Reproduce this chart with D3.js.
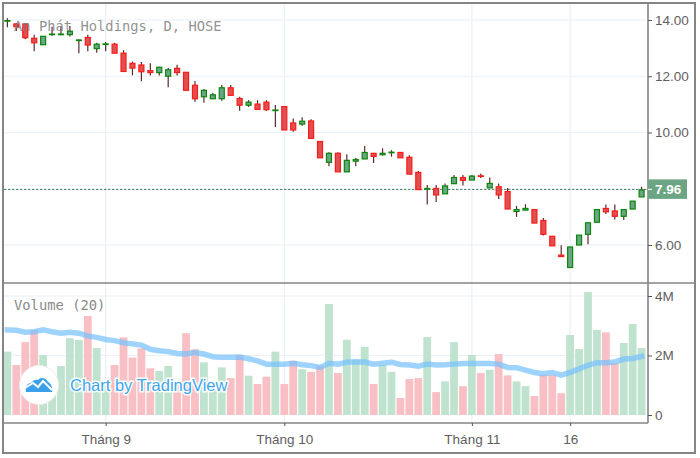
<!DOCTYPE html>
<html>
<head>
<meta charset="utf-8">
<script src="https://cdn.jsdelivr.net/npm/d3@7"></script>
<style>
  html, body { margin: 0; padding: 0; background: #fff; }
  svg { display: block; }
  text { font-family: "Liberation Sans", Arial, sans-serif; }
</style>
</head>
<body>
<div id="chart"></div>
<script>
// daily candles
const opens = [13.96,13.86,13.86,13.35,13.12,13.49,13.49,13.48,13.28,13.38,12.98,13.14,13.14,12.82,12.46,12.40,12.20,12.13,12.00,12.28,12.14,11.68,11.27,11.20,11.20,11.59,11.21,10.97,11.01,11.08,10.79,10.92,10.34,10.30,10.41,9.68,8.94,9.26,8.60,8.98,9.06,9.26,9.21,9.29,9.29,9.12,8.58,8.00,8.01,7.82,8.18,8.40,8.31,8.46,8.03,8.07,7.90,7.19,7.24,7.26,6.87,6.31,5.64,5.20,6.00,6.38,6.81,7.30,7.21,7.02,7.28,7.71];
const highs = [14.06,13.89,13.88,13.48,13.42,13.76,13.75,13.79,13.31,13.48,13.19,13.22,13.19,12.93,12.52,12.51,12.46,12.34,12.29,12.41,12.14,11.83,11.55,11.41,11.69,11.69,11.27,11.15,11.15,11.15,10.98,10.94,10.50,10.54,10.47,9.68,9.30,9.30,9.23,9.09,9.52,9.26,9.44,9.37,9.29,9.19,8.63,8.13,8.13,8.19,8.49,8.49,8.49,8.54,8.40,8.19,8.03,7.39,7.45,7.26,6.96,6.31,5.99,5.93,6.35,6.79,7.26,7.44,7.44,7.26,7.56,8.07];
const lows = [13.74,13.61,13.32,12.89,13.12,13.44,13.46,13.41,12.82,12.89,12.84,12.89,12.82,12.17,12.03,11.82,12.03,12.03,11.61,12.03,11.50,11.09,11.06,11.20,11.13,11.32,10.77,10.91,10.81,10.77,10.20,10.09,10.03,10.24,9.79,9.10,8.80,8.60,8.60,8.80,9.06,8.92,9.18,9.14,9.10,8.52,7.97,7.44,7.53,7.82,8.18,8.12,8.31,8.38,8.03,7.64,7.28,7.00,7.24,6.78,6.34,5.97,5.59,5.20,6.00,6.03,6.81,7.10,6.91,6.89,7.28,7.71];
const closes = [13.98,13.76,13.37,13.19,13.42,13.50,13.50,13.60,13.29,13.11,13.14,13.15,12.82,12.17,12.29,12.16,12.13,12.32,12.23,12.13,11.50,11.20,11.50,11.34,11.59,11.32,10.97,11.08,10.82,10.81,10.80,10.09,10.09,10.40,9.79,9.10,9.26,8.60,9.01,9.04,9.29,9.15,9.26,9.30,9.10,8.52,7.97,8.01,7.78,8.10,8.40,8.30,8.45,8.45,8.19,7.78,7.28,7.26,7.30,6.78,6.38,5.97,5.59,5.93,6.35,6.79,7.26,7.18,7.02,7.26,7.56,7.96];

// volume in millions, and its 20 day average
const volumes = [2.13,1.68,2.45,2.86,2.02,1.20,1.65,2.58,2.52,3.33,2.25,1.10,1.68,2.61,1.93,2.24,1.57,1.48,1.65,1.10,2.75,2.21,1.77,1.10,1.60,1.24,2.02,1.32,1.04,1.29,2.13,1.04,1.82,1.54,1.45,1.65,3.73,1.41,2.53,1.85,2.29,1.04,1.68,1.45,0.57,1.21,1.24,2.62,0.77,1.13,2.45,0.97,2.02,1.41,1.52,2.05,1.33,1.13,0.97,0.64,1.34,1.34,0.73,2.69,2.22,4.13,2.86,2.78,1.74,2.42,3.06,2.25];
const volumeMa = [2.86,2.85,2.78,2.80,2.86,2.80,2.75,2.78,2.75,2.66,2.61,2.54,2.50,2.43,2.39,2.35,2.21,2.16,2.13,2.07,2.05,2.10,2.05,1.96,1.94,1.94,1.95,1.89,1.82,1.71,1.71,1.71,1.74,1.69,1.66,1.60,1.74,1.71,1.77,1.79,1.78,1.71,1.74,1.77,1.70,1.68,1.64,1.71,1.68,1.69,1.71,1.73,1.73,1.73,1.73,1.71,1.60,1.59,1.51,1.43,1.39,1.43,1.34,1.43,1.55,1.67,1.76,1.76,1.78,1.88,1.90,1.97];

const priceTicks = [6, 10, 12, 14];
const volumeTicks = [0, 2, 4];
const timeLabels = ["Tháng 9", "Tháng 10", "Tháng 11", "16"];
const timeIndex = [11, 31, 52, 63];
const lastPrice = 7.96;

const width = 700, height = 458;
const axisX = 648, paneBottom = 283, timeTop = 423;
const upColor = '#0a860a', downColor = '#ff1a1a';
const gridColor = '#e9f0f6', frameColor = '#858585', labelColor = '#5e5e5e';

const svg = d3.select('#chart').append('svg')
  .attr('width', width)
  .attr('height', height);

const x = d3.scaleLinear().domain([0, 71]).range([7.4, 641.6]);
const yPrice = d3.scaleLinear().domain([6, 14]).range([245, 20]);
const yVolume = d3.scaleLinear().domain([0, 4]).range([415, 296]);

// grid
const grid = svg.append('g').attr('stroke', gridColor).attr('stroke-width', 1.2);
grid.selectAll('line.h1').data(priceTicks).enter().append('line')
  .attr('x1', 4).attr('x2', axisX)
  .attr('y1', d => yPrice(d)).attr('y2', d => yPrice(d));
grid.selectAll('line.h2').data(volumeTicks.slice(1)).enter().append('line')
  .attr('x1', 4).attr('x2', axisX)
  .attr('y1', d => yVolume(d)).attr('y2', d => yVolume(d));
grid.selectAll('line.v').data(timeIndex).enter().append('line')
  .attr('x1', d => x(d)).attr('x2', d => x(d))
  .attr('y1', 4).attr('y2', timeTop);

// last price line
svg.append('line')
  .attr('x1', 4).attr('x2', axisX)
  .attr('y1', yPrice(lastPrice) - 0.5).attr('y2', yPrice(lastPrice) - 0.5)
  .attr('stroke', '#3f7f70')
  .attr('stroke-dasharray', '2.5,1.5');

// candles
const candle = svg.append('g').selectAll('g')
  .data(closes.map((c, i) => i))
  .enter().append('g');
const isUp = i => closes[i] >= opens[i];

candle.append('line')
  .attr('x1', i => x(i)).attr('x2', i => x(i))
  .attr('y1', i => yPrice(highs[i])).attr('y2', i => yPrice(lows[i]))
  .attr('stroke', '#5a2a2a')
  .attr('stroke-width', 1.2);

candle.append('rect')
  .attr('x', i => x(i) - 2.5)
  .attr('width', 5)
  .attr('y', i => yPrice(Math.max(opens[i], closes[i])))
  .attr('height', i => Math.max(0.6, Math.abs(yPrice(opens[i]) - yPrice(closes[i]))))
  .attr('fill', i => isUp(i) ? '#6aa585' : '#df5050')
  .attr('stroke', i => isUp(i) ? upColor : downColor)
  .attr('stroke-width', 1.2);

// pane title is drawn over the candles
svg.append('text')
  .attr('x', 14).attr('y', 31)
  .attr('fill', '#7d7d7d')
  .attr('fill-opacity', 0.85)
  .style('font-family', '"DejaVu Sans Mono", monospace')
  .style('font-size', '13.8px')
  .text('An Phát Holdings, D, HOSE');

// volume bars
svg.append('g').selectAll('rect')
  .data(volumes)
  .enter().append('rect')
  .attr('x', (d, i) => x(i) - 3.9)
  .attr('width', 7.8)
  .attr('y', d => yVolume(d))
  .attr('height', d => yVolume(0) - yVolume(d))
  .attr('fill', (d, i) => isUp(i) ? '#bfe3cf' : '#f8bfc4');

// volume average
svg.append('path')
  .datum(volumeMa)
  .attr('d', d3.line().x((d, i) => x(i)).y(d => yVolume(d)))
  .attr('fill', 'none')
  .attr('stroke', '#74c0fc')
  .attr('stroke-opacity', 0.7)
  .attr('stroke-linecap', 'square')
  .attr('stroke-width', 5.5);

svg.append('text')
  .attr('x', 14).attr('y', 310)
  .attr('fill', '#8a8a8a')
  .style('font-family', '"DejaVu Sans Mono", monospace')
  .style('font-size', '13.8px')
  .text('Volume (20)');

// watermark
const mark = svg.append('g');
mark.append('circle')
  .attr('cx', 39).attr('cy', 385).attr('r', 19.5)
  .attr('fill', '#fff').attr('stroke', '#eee');
const logo = mark.append('g').attr('transform', 'translate(39,385)');
logo.append('path')
  .attr('fill', '#3ba0ec')
  .attr('d', 'M-13,7 C-14,2 -12,-2 -8,-2 C-6,-5 -3,-6 -1,-5 C1,-8 7,-8 9,-3 C12,-2 14,3 13,7 Z');
logo.append('path')
  .attr('fill', 'none')
  .attr('stroke', '#fff')
  .attr('stroke-width', 2)
  .attr('d', 'M-14,3 L-6,-2 L-1,2 L4,-4 L13,5');
mark.append('text')
  .attr('x', 70).attr('y', 391)
  .attr('fill', '#3ba6ee')
  .attr('stroke', '#fff')
  .attr('stroke-width', 3)
  .attr('paint-order', 'stroke')
  .style('font-size', '16.5px')
  .text('Chart by TradingView');

// frame
const frame = svg.append('g').attr('stroke', frameColor).attr('fill', 'none');
frame.append('rect')
  .attr('x', 3).attr('y', 3).attr('width', 692).attr('height', 450)
  .attr('stroke-width', 2);
frame.append('line').attr('x1', axisX).attr('x2', axisX).attr('y1', 3).attr('y2', timeTop).attr('stroke-width', 1.6);
frame.append('line').attr('x1', 3).attr('x2', 695).attr('y1', paneBottom).attr('y2', paneBottom).attr('stroke-width', 1.4);
frame.append('line').attr('x1', 3).attr('x2', axisX).attr('y1', timeTop).attr('y2', timeTop).attr('stroke-width', 1.4);

// axes through d3, domain line is the frame
function styleAxis(g) {
  g.select('.domain').remove();
  g.selectAll('.tick line').attr('stroke', '#555');
  g.selectAll('.tick text')
    .attr('fill', labelColor)
    .style('font-family', '"Liberation Sans", Arial, sans-serif')
    .style('font-size', '13.5px');
}

svg.append('g')
  .attr('transform', `translate(${axisX},0)`)
  .call(d3.axisRight(yPrice).tickValues(priceTicks).tickFormat(d3.format('.2f')).tickSize(4).tickPadding(3))
  .call(styleAxis);

svg.append('g')
  .attr('transform', `translate(${axisX},0)`)
  .call(d3.axisRight(yVolume).tickValues(volumeTicks).tickFormat(d => d === 0 ? '0' : d + 'M').tickSize(4).tickPadding(3))
  .call(styleAxis);

svg.append('g')
  .attr('transform', `translate(0,${timeTop})`)
  .call(d3.axisBottom(x).tickValues(timeIndex).tickFormat((d, i) => timeLabels[i]).tickSize(3).tickPadding(8))
  .call(styleAxis);

// last price label
const lastY = yPrice(lastPrice) - 0.5;
svg.append('rect')
  .attr('x', axisX).attr('y', lastY - 10)
  .attr('width', 39).attr('height', 19.5)
  .attr('fill', '#6ca584');
svg.append('line')
  .attr('x1', axisX).attr('x2', axisX + 4)
  .attr('y1', lastY).attr('y2', lastY)
  .attr('stroke', '#fff');
svg.append('text')
  .attr('x', axisX + 7).attr('y', lastY + 5)
  .attr('fill', '#fff')
  .style('font-size', '13.5px')
  .style('font-weight', 'bold')
  .text(d3.format('.2f')(lastPrice));
</script>
</body>
</html>
